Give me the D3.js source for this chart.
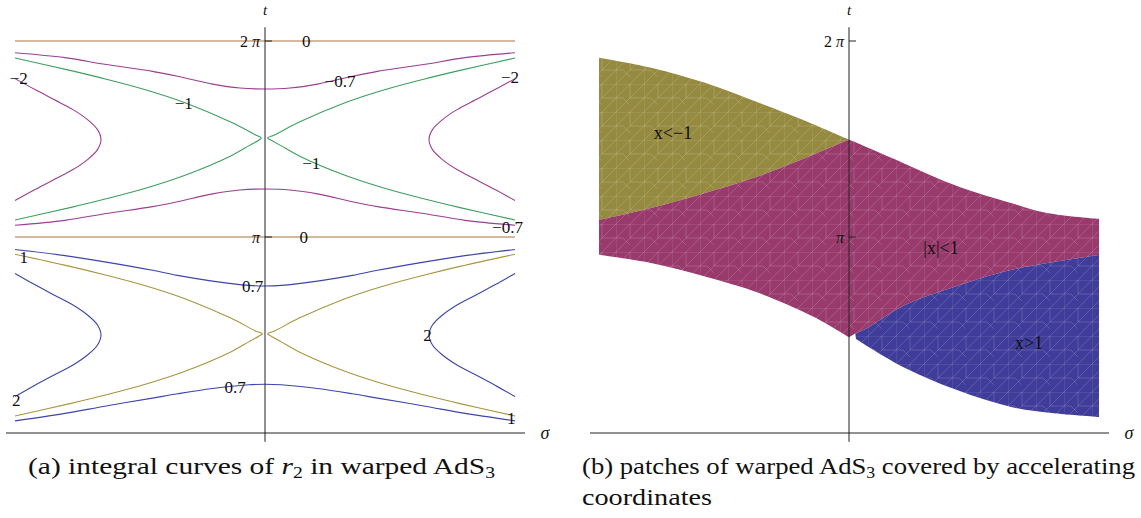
<!DOCTYPE html>
<html>
<head>
<meta charset="utf-8">
<script src="https://d3js.org/d3.v7.min.js"></script>
<style>
  body { margin: 0; background: #fff; }
  svg text { font-family: "Liberation Serif", "DejaVu Serif", serif; fill: #111; }
</style>
</head>
<body>
<svg width="1141" height="518" font-family="Liberation Serif, DejaVu Serif, serif"></svg>
<script>

// ---- data: sigma, t (t in units of pi) ----
var zeroLines = [2, 1];

var purpleTopUpper = [[-2,1.94],[-1.6,1.915],[-1.27,1.88],[-0.9,1.845],[-0.7,1.82],[-0.42,1.78],[-0.2,1.76],[0,1.755],
                      [0.2,1.76],[0.42,1.78],[0.7,1.82],[0.9,1.845],[1.27,1.88],[1.6,1.915],[2,1.94]];
var purpleTopLower = [[-2,1.06],[-1.6,1.085],[-1.27,1.12],[-0.9,1.155],[-0.7,1.18],[-0.42,1.22],[-0.2,1.24],[0,1.245],
                      [0.2,1.24],[0.42,1.22],[0.7,1.18],[0.9,1.155],[1.27,1.12],[1.6,1.085],[2,1.06]];
var purpleSideL = [[-2,1.808],[-1.84,1.752],[-1.688,1.701],[-1.536,1.65],[-1.42,1.599],[-1.34,1.548],[-1.312,1.497],
                   [-1.34,1.446],[-1.42,1.395],[-1.536,1.344],[-1.688,1.293],[-1.84,1.242],[-2,1.186]];
var purpleSideR = [[2,1.808],[1.84,1.752],[1.688,1.701],[1.536,1.65],[1.42,1.599],[1.34,1.548],[1.312,1.497],
                   [1.34,1.446],[1.42,1.395],[1.536,1.344],[1.688,1.293],[1.84,1.242],[2,1.186]];
var greenL = [[-2,1.913],[-1.56,1.85],[-1.27,1.805],[-0.95,1.75],[-0.64,1.685],[-0.27,1.585],[-0.08,1.522],[-0.03,1.505],
              [-0.05,1.494],[-0.13,1.465],[-0.27,1.415],[-0.64,1.315],[-0.95,1.25],[-1.27,1.195],[-1.56,1.15],[-2,1.087]];
var greenR = [[2,1.913],[1.56,1.85],[1.27,1.805],[0.95,1.75],[0.64,1.685],[0.27,1.585],[0.08,1.522],[0.02,1.505],
              [0.05,1.494],[0.13,1.465],[0.27,1.415],[0.64,1.315],[0.95,1.25],[1.27,1.195],[1.56,1.15],[2,1.087]];

var blueUpper = [[-2,0.936],[-1.6,0.905],[-1.27,0.872],[-0.9,0.83],[-0.7,0.804],[-0.42,0.775],[-0.13,0.753],[0,0.75],
                 [0.13,0.753],[0.42,0.775],[0.7,0.804],[0.9,0.83],[1.27,0.872],[1.6,0.905],[2,0.936]];
var blueLower = [[-2,0.062],[-1.6,0.1],[-1.27,0.138],[-0.9,0.178],[-0.7,0.2],[-0.42,0.227],[-0.13,0.246],[0,0.249],
                 [0.13,0.246],[0.42,0.227],[0.7,0.2],[0.9,0.178],[1.27,0.138],[1.6,0.1],[2,0.062]];
var blueSideL = [[-2,0.814],[-1.84,0.756],[-1.688,0.704],[-1.536,0.653],[-1.42,0.602],[-1.34,0.551],[-1.312,0.5],
                 [-1.34,0.449],[-1.42,0.398],[-1.536,0.347],[-1.688,0.296],[-1.84,0.244],[-2,0.186]];
var blueSideR = [[2,0.814],[1.84,0.756],[1.688,0.704],[1.536,0.653],[1.42,0.602],[1.34,0.551],[1.312,0.5],
                 [1.34,0.449],[1.42,0.398],[1.536,0.347],[1.688,0.296],[1.84,0.244],[2,0.186]];
var oliveL = [[-2,0.912],[-1.56,0.85],[-1.27,0.805],[-0.95,0.75],[-0.64,0.685],[-0.27,0.585],[-0.08,0.522],[-0.02,0.506],
              [-0.05,0.494],[-0.13,0.465],[-0.27,0.415],[-0.64,0.315],[-0.95,0.25],[-1.27,0.195],[-1.56,0.15],[-2,0.087]];
var oliveR = [[2,0.912],[1.56,0.85],[1.27,0.805],[0.95,0.75],[0.64,0.685],[0.27,0.585],[0.08,0.522],[0.02,0.506],
              [0.05,0.494],[0.13,0.465],[0.27,0.415],[0.64,0.315],[0.95,0.25],[1.27,0.195],[1.56,0.15],[2,0.087]];

var contourLabels = [["0",0.33,2.0],["0",0.31,1.0],["\u22120.7",0.6,1.796],["\u22120.7",1.94,1.051],["\u22121",-0.65,1.684],["\u22121",0.37,1.378],
                     ["\u22122",-1.97,1.811],["\u22122",1.96,1.816],["1",-1.93,0.898],["1",1.97,0.077],["0.7",-0.1,0.75],["0.7",-0.24,0.235],
                     ["2",-1.99,0.168],["2",1.3,0.5]];

// patches (right panel)
var oliveTop    = [[-2,1.915],[-1.584,1.864],[-1.152,1.787],[-0.72,1.685],[-0.376,1.6],[0,1.497]];
var oliveBottom = [[-2,1.087],[-1.584,1.148],[-1.152,1.224],[-0.72,1.311],[-0.288,1.42],[0,1.497]];
var pinkTopR    = [[0,1.497],[0.432,1.378],[0.864,1.26],[1.296,1.173],[1.584,1.122],[2,1.092]];
var pinkBottomL = [[-2,0.909],[-1.584,0.867],[-1.152,0.798],[-0.72,0.714],[-0.288,0.594],[0,0.488]];
var blueTop     = [[0.05,0.508],[0.144,0.535],[0.432,0.648],[0.864,0.75],[1.296,0.832],[2,0.908]];
var blueBottom  = [[0.056,0.48],[0.432,0.337],[0.864,0.219],[1.296,0.133],[1.584,0.105],[2,0.082]];
var patchLabels = [["x<\u22121",-1.408,1.531],["|x|<1",0.736,0.944],["x>1",1.44,0.459]];

var yTickVals = [1, 2];
var yTickText = [["", "\u03c0"], ["2 ", "\u03c0"]];

// ---- setup ----
var FONT = "Liberation Serif, DejaVu Serif, serif";
var svg = d3.select("svg");
var y = d3.scaleLinear().domain([0, 2]).range([433, 41]);
var xL = d3.scaleLinear().domain([-2, 2]).range([15, 515]);
var xR = d3.scaleLinear().domain([-2, 2]).range([599, 1099]);

var defs = svg.append("defs");
var pat = defs.append("pattern").attr("id", "mesh").attr("patternUnits", "userSpaceOnUse")
    .attr("width", 28).attr("height", 28);
pat.append("path")
    .attr("d", "M0,28 L28,0 M0,14 L14,0 M14,28 L28,14 M0,0 L28,0 M0,0 L0,28 M14,0 L14,14 M14,14 L28,14 M0,14 L7,14 M7,14 L14,21")
    .attr("stroke", "#fff").attr("stroke-opacity", 0.22).attr("stroke-width", 0.7).attr("fill", "none");

function axes(x, xmin, xmax) {
  var g = svg.append("g");
  g.append("line").attr("x1", x(xmin)).attr("x2", x(xmax)).attr("y1", y(0)).attr("y2", y(0))
      .attr("stroke", "#222").attr("stroke-width", 1);
  g.append("line").attr("x1", x(0)).attr("x2", x(0)).attr("y1", y(2.07)).attr("y2", y(-0.045))
      .attr("stroke", "#222").attr("stroke-width", 1);
  yTickVals.forEach(function(v, i) {
    g.append("line").attr("x1", x(0)).attr("x2", x(0) + 7).attr("y1", y(v)).attr("y2", y(v))
        .attr("stroke", "#222").attr("stroke-width", 1);
    var t = g.append("text").attr("x", x(0) - 5).attr("y", y(v)).attr("dy", "0.35em")
        .attr("font-family", FONT).attr("text-anchor", "end").style("font-size", "16px");
    t.append("tspan").text(yTickText[i][0]);
    t.append("tspan").style("font-style", "italic").text(yTickText[i][1]);
  });
  g.append("text").attr("x", x(0)).attr("y", 15).attr("text-anchor", "middle").attr("font-family", FONT)
      .style("font-style", "italic").style("font-size", "15px").text("t");
  g.append("text").attr("x", x(xmax) + 20).attr("y", y(0)).attr("dy", "0.35em").attr("text-anchor", "middle")
      .attr("font-family", FONT).style("font-style", "italic").style("font-size", "18px").text("\u03c3");
  return g;
}

// ---- left panel ----
var lineL = d3.line().x(function(d) { return xL(d[0]); }).y(function(d) { return y(d[1]); })
    .curve(d3.curveCatmullRom.alpha(0.5));

var gL = svg.append("g");
zeroLines.forEach(function(v) {
  gL.append("path").attr("d", lineL([[-2, v], [2, v]]))
      .attr("fill", "none").attr("stroke", "#a8743f").attr("stroke-width", 1.1);
});
[[purpleTopUpper, "#9c3e93"], [purpleTopLower, "#9c3e93"], [purpleSideL, "#9c3e93"], [purpleSideR, "#9c3e93"],
 [greenL, "#3d9f60"], [greenR, "#3d9f60"],
 [blueUpper, "#3e45a6"], [blueLower, "#3e45a6"], [blueSideL, "#3e45a6"], [blueSideR, "#3e45a6"],
 [oliveL, "#a8953f"], [oliveR, "#a8953f"]].forEach(function(c) {
  gL.append("path").attr("d", lineL(c[0]))
      .attr("fill", "none").attr("stroke", c[1]).attr("stroke-width", 1.1);
});
axes(xL, -2.072, 2.08);
gL.selectAll("text.cl").data(contourLabels).enter().append("text")
    .attr("class", "cl").attr("font-family", FONT)
    .attr("x", function(d) { return xL(d[1]); }).attr("y", function(d) { return y(d[2]); })
    .attr("dy", "0.35em").attr("text-anchor", "middle").style("font-size", "17px")
    .text(function(d) { return d[0]; });

// ---- right panel ----
var lineR = d3.line().x(function(d) { return xR(d[0]); }).y(function(d) { return y(d[1]); })
    .curve(d3.curveCatmullRom.alpha(0.5));
function joined(parts) {
  return parts.map(function(p, i) {
    var s = lineR(p);
    return i === 0 ? s : "L" + s.slice(1);
  }).join("") + "Z";
}
function rev(a) { return a.slice().reverse(); }

var patches = [
  [joined([oliveTop, rev(oliveBottom)]), "#968a40"],
  [joined([oliveBottom, pinkTopR, rev(blueTop), [[0, 0.488]], rev(pinkBottomL)]), "#993a6d"],
  [joined([blueTop, rev(blueBottom)]), "#403c9a"]
];
var gR = svg.append("g");
patches.forEach(function(p) {
  gR.append("path").attr("d", p[0]).attr("fill", p[1]);
  gR.append("path").attr("d", p[0]).attr("fill", "url(#mesh)");
});
axes(xR, -2.072, 2.08);
gR.selectAll("text.pl").data(patchLabels).enter().append("text")
    .attr("class", "pl").attr("font-family", FONT)
    .attr("x", function(d) { return xR(d[1]); }).attr("y", function(d) { return y(d[2]); })
    .attr("dy", "0.35em").attr("text-anchor", "middle").style("font-size", "18px")
    .text(function(d) { return d[0]; });

// ---- captions ----
var capA = svg.append("text").attr("x", 28).attr("y", 474).attr("font-family", FONT).style("font-size", "24px")
    .attr("textLength", 467).attr("lengthAdjust", "spacingAndGlyphs");
capA.append("tspan").text("(a) integral curves of ");
capA.append("tspan").style("font-style", "italic").text("r");
capA.append("tspan").attr("dy", 4).style("font-size", "16px").text("2");
capA.append("tspan").attr("dy", -4).text(" in warped AdS");
capA.append("tspan").attr("dy", 4).style("font-size", "16px").text("3");

var capB = svg.append("text").attr("x", 582).attr("y", 474).attr("font-family", FONT).style("font-size", "24px")
    .attr("textLength", 553).attr("lengthAdjust", "spacingAndGlyphs");
capB.append("tspan").text("(b) patches of warped AdS");
capB.append("tspan").attr("dy", 4).style("font-size", "16px").text("3");
capB.append("tspan").attr("dy", -4).text(" covered by accelerating");
svg.append("text").attr("x", 582).attr("y", 505).attr("font-family", FONT).style("font-size", "24px")
    .attr("textLength", 130).attr("lengthAdjust", "spacingAndGlyphs").text("coordinates");

</script>
</body>
</html>
